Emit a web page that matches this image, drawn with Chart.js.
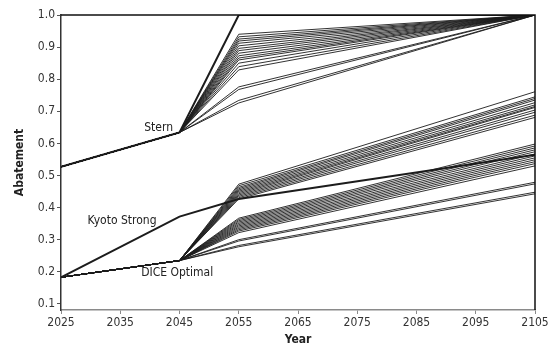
<!DOCTYPE html>
<html>
<head>
<meta charset="utf-8">
<script src="https://cdn.jsdelivr.net/npm/chart.js@4/dist/chart.umd.min.js"></script>
<style>
html,body{margin:0;padding:0;background:#fff;}
#wrap{width:552px;height:347px;}
</style>
</head>
<body>
<div id="wrap"><canvas id="c" width="552" height="347"></canvas></div>
<script>
// ---- data ----
const years = [2025, 2045, 2055, 2105];
const xTicks = [2025, 2035, 2045, 2055, 2065, 2075, 2085, 2095, 2105];
const yTicks = [0.1, 0.2, 0.3, 0.4, 0.5, 0.6, 0.7, 0.8, 0.9, 1.0];

const sternMain = [0.527, 0.634, 1.0, 1.0];
const kyotoStrong = [0.183, 0.372, 0.427, 0.565];

const sternStart = [0.527, 0.634];
const sternFan2055 = [0.940, 0.932, 0.925, 0.919, 0.912, 0.904, 0.896, 0.889, 0.881, 0.873, 0.866, 0.860, 0.850, 0.839, 0.829, 0.776, 0.768, 0.734, 0.726];
const sternFan2105 = [1.0, 1.0, 1.0, 1.0, 1.0, 1.0, 1.0, 1.0, 1.0, 1.0, 1.0, 1.0, 1.0, 1.0, 1.0, 1.0, 1.0, 1.0, 1.0];

const diceStart = [0.183, 0.235];
const upperFan2055 = [0.473, 0.468, 0.463, 0.459, 0.455, 0.451, 0.447, 0.443, 0.439, 0.435, 0.431, 0.427];
const upperFan2105 = [0.761, 0.745, 0.740, 0.735, 0.727, 0.720, 0.715, 0.712, 0.704, 0.697, 0.688, 0.681];
const lowerFan2055 = [0.367, 0.363, 0.359, 0.355, 0.351, 0.347, 0.343, 0.339, 0.335, 0.331, 0.327, 0.322, 0.300, 0.296, 0.282, 0.278];
const lowerFan2105 = [0.598, 0.592, 0.586, 0.580, 0.574, 0.567, 0.561, 0.555, 0.549, 0.543, 0.537, 0.530, 0.479, 0.474, 0.448, 0.443];

const labelTexts = ['Stern', 'Kyoto Strong', 'DICE Optimal'];
const labelYears = [2043.9, 2035.3, 2044.6];
const labelValues = [0.649, 0.359, 0.197];
const labelAligns = ['right', 'center', 'center'];

// ---- build datasets ----
const FONT = "'DejaVu Sans Condensed', 'DejaVu Sans', sans-serif";
const LINE = '#1c1c1c';
function series(vals, width) {
  return {
    data: vals.map((v, i) => ({x: years[i], y: v})),
    borderColor: LINE, borderWidth: width || 0.9,
    pointRadius: 0, tension: 0, fill: false
  };
}
const datasets = [];
sternFan2055.forEach((v, i) => datasets.push(series([sternStart[0], sternStart[1], v, sternFan2105[i]])));
upperFan2055.forEach((v, i) => datasets.push(series([diceStart[0], diceStart[1], v, upperFan2105[i]])));
lowerFan2055.forEach((v, i) => datasets.push(series([diceStart[0], diceStart[1], v, lowerFan2105[i]])));
datasets.push(series(sternMain, 2));
datasets.push(series(kyotoStrong, 2));

const labelPlugin = {
  id: 'labels',
  afterDatasetsDraw(chart) {
    const {ctx, chartArea: a, scales: {x, y}} = chart;
    ctx.save();
    // top and right frame
    ctx.strokeStyle = '#111';
    ctx.lineWidth = 1.5;
    ctx.beginPath();
    ctx.moveTo(a.left, a.top);
    ctx.lineTo(a.right, a.top);
    ctx.lineTo(a.right, a.bottom);
    ctx.stroke();
    ctx.font = '12px ' + FONT;
    ctx.fillStyle = '#222';
    ctx.textBaseline = 'middle';
    labelTexts.forEach((t, i) => {
      ctx.textAlign = labelAligns[i];
      ctx.fillText(t, x.getPixelForValue(labelYears[i]), y.getPixelForValue(labelValues[i]));
    });
    ctx.restore();
  }
};

new Chart(document.getElementById('c'), {
  type: 'line',
  data: {datasets},
  options: {
    responsive: false,
    animation: false,
    events: [],
    layout: {padding: {left: 0, right: 17, top: 15, bottom: 0}},
    plugins: {legend: {display: false}, tooltip: {enabled: false}},
    scales: {
      x: {
        type: 'linear', min: 2025, max: 2105,
        afterBuildTicks: s => { s.ticks = xTicks.map(v => ({value: v})); },
        afterFit: s => { s.height = 37; },
        grid: {drawOnChartArea: false, tickLength: 4, color: '#8a8a8a'},
        border: {display: true, color: '#8a8a8a', width: 1.5},
        ticks: {padding: 2, color: '#333', font: {family: FONT, size: 12}, maxRotation: 0,
                callback: v => String(v)},
        title: {display: true, text: 'Year', color: '#222', font: {family: FONT, size: 12, weight: 'bold'},
                padding: {top: 0, bottom: 0}}
      },
      y: {
        type: 'linear', min: 0.081, max: 1.0,
        afterBuildTicks: s => { s.ticks = yTicks.map(v => ({value: v})); },
        afterFit: s => { s.width = 61; },
        grid: {drawOnChartArea: false, tickLength: 4, color: '#555'},
        border: {display: true, color: '#333', width: 1.5},
        ticks: {padding: 2, color: '#333', font: {family: FONT, size: 12},
                callback: v => Number(v).toFixed(1)},
        title: {display: true, text: 'Abatement', color: '#222', font: {family: FONT, size: 12, weight: 'bold'},
                padding: {top: 13, bottom: 0}}
      }
    }
  },
  plugins: [labelPlugin]
});
</script>
</body>
</html>
